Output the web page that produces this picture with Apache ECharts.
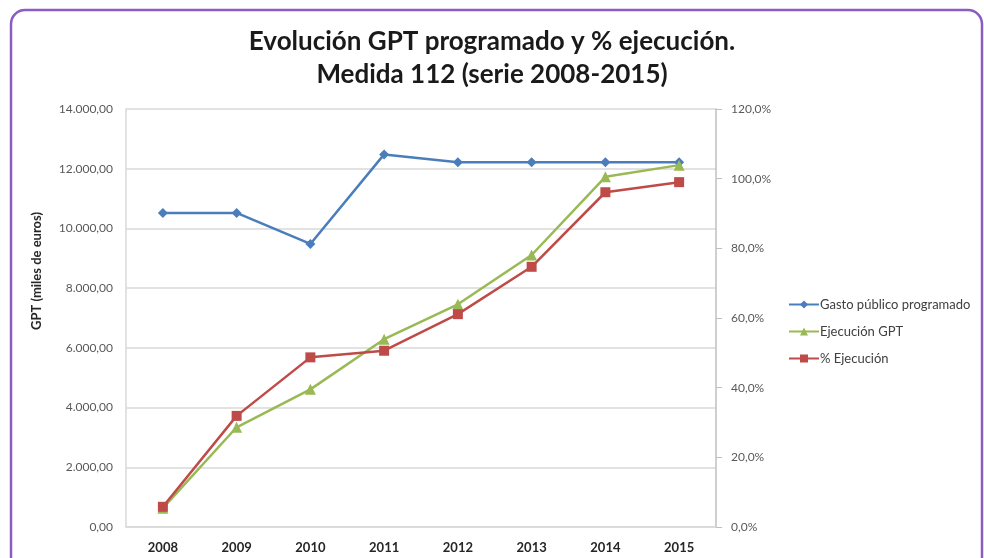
<!DOCTYPE html>
<html lang="es">
<head>
    <meta charset="UTF-8"/>
    <title>Medida 112</title>
    <script src="https://cdn.jsdelivr.net/npm/echarts@6.0.0/dist/echarts.min.js"></script>
    <style>
        * { margin: 0; padding: 0; box-sizing: border-box; }
        body { background: #ffffff; }
        #gen { width: 984px; height: 558px; }
    </style>
</head>
<body>
<div id="gen"></div>
<script>
    // datos
    const years = ['2008', '2009', '2010', '2011', '2012', '2013', '2014', '2015'];
    const gastoProgramado = [10520, 10520, 9480, 12480, 12220, 12220, 12220, 12220];
    const ejecucionGPT = [630, 3340, 4610, 6290, 7460, 9110, 11730, 12120];
    const pctEjecucion = [5.8, 31.9, 48.7, 50.6, 61.1, 74.7, 96.1, 99.0];

    const font = 'Lato, "Open Sans", sans-serif';

    function fmtMiles(v) {
        const s = Math.round(v).toString().replace(/\B(?=(\d{3})+(?!\d))/g, '.');
        return s + ',00';
    }

    function fmtPct(v) {
        return v.toFixed(1).replace('.', ',') + '%';
    }

    const chart = echarts.init(document.getElementById('gen'));
    const option = {
        animation: false,
        textStyle: { fontFamily: font },
        title: {
            text: 'Evolución GPT programado y % ejecución.\nMedida 112 (serie 2008-2015)',
            left: 'center',
            top: 20,
            textStyle: {
                fontFamily: font,
                fontSize: 26,
                fontWeight: 'bold',
                color: '#1a1a1a',
                lineHeight: 33
            }
        },
        graphic: [
            {
                type: 'rect',
                shape: { x: 11, y: 10, width: 971, height: 580, r: 14 },
                style: { fill: 'none', stroke: '#8a5cc4', lineWidth: 2.5 },
                silent: true
            },
            {
                type: 'text',
                x: 37,
                y: 271,
                rotation: Math.PI / 2,
                style: {
                    text: 'GPT (miles de euros)',
                    font: 'bold 13px ' + font,
                    fill: '#262626',
                    align: 'center',
                    verticalAlign: 'middle'
                }
            }
        ],
        legend: {
            orient: 'vertical',
            left: 783,
            top: 293,
            itemWidth: 30,
            itemHeight: 10,
            itemGap: 14,
            textStyle: { fontFamily: font, fontSize: 13, color: '#404040', padding: [0, 0, 0, -4] },
            data: ['Gasto público programado', 'Ejecución GPT', '% Ejecución']
        },
        grid: { left: 126, right: 268, top: 109, bottom: 31 },
        xAxis: {
            type: 'category',
            data: years,
            boundaryGap: true,
            axisLine: { lineStyle: { color: '#d9d9d9', width: 1.5 } },
            axisTick: { show: false },
            axisLabel: { fontFamily: font, fontSize: 13, fontWeight: 'bold', color: '#262626', margin: 14 }
        },
        yAxis: [
            {
                type: 'value',
                min: 0,
                max: 14000,
                interval: 2000,
                axisLine: { show: true, lineStyle: { color: '#d9d9d9', width: 1.5 } },
                axisTick: { show: false },
                splitLine: { lineStyle: { color: '#d9d9d9', width: 1.5 } },
                axisLabel: { fontFamily: font, fontSize: 12, color: '#595959', margin: 13, formatter: fmtMiles }
            },
            {
                type: 'value',
                min: 0,
                max: 120,
                interval: 20,
                position: 'right',
                axisLine: { show: true, lineStyle: { color: '#bfbfbf', width: 1.5 } },
                axisTick: { show: true, inside: false, length: 6, lineStyle: { color: '#bfbfbf' } },
                splitLine: { show: false },
                axisLabel: { fontFamily: font, fontSize: 12, color: '#595959', margin: 15, formatter: fmtPct }
            }
        ],
        series: [
            {
                name: 'Gasto público programado',
                type: 'line',
                yAxisIndex: 0,
                data: gastoProgramado,
                symbol: 'diamond',
                symbolSize: 10,
                lineStyle: { width: 2.5, color: '#4a7ebb' },
                itemStyle: { color: '#4a7ebb' }
            },
            {
                name: 'Ejecución GPT',
                type: 'line',
                yAxisIndex: 0,
                data: ejecucionGPT,
                symbol: 'triangle',
                symbolSize: 11,
                lineStyle: { width: 2.5, color: '#98b954' },
                itemStyle: { color: '#98b954' }
            },
            {
                name: '% Ejecución',
                type: 'line',
                yAxisIndex: 1,
                data: pctEjecucion,
                symbol: 'rect',
                symbolSize: 10,
                lineStyle: { width: 2.5, color: '#be4b48' },
                itemStyle: { color: '#be4b48' }
            }
        ]
    };
    chart.setOption(option);
</script>
</body>
</html>
